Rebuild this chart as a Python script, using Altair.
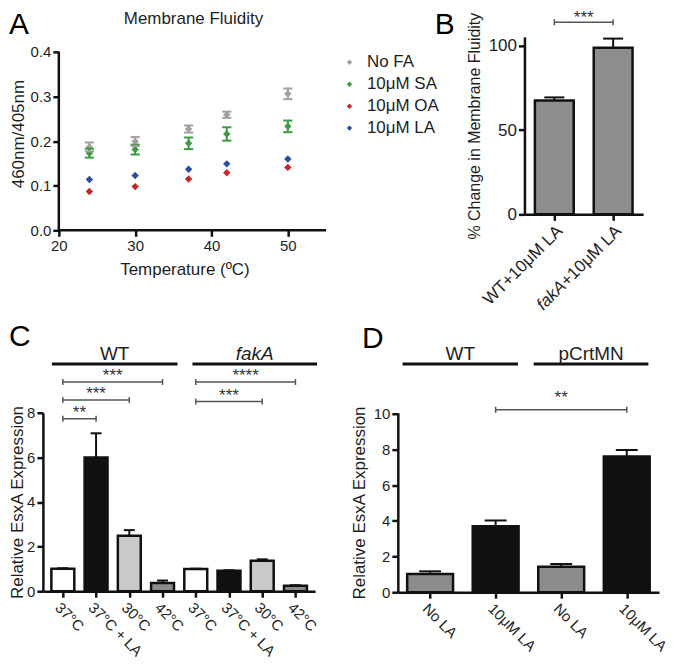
import json
import altair as alt
import pandas as pd

FONT = "Liberation Sans"
INK = "#111111"
TXT = "#1e1e1e"

# ---------------- Panel A: membrane fluidity ----------------
temps = [24, 30, 37, 42, 50]
A_series = ["No FA", "10μM SA", "10μM OA", "10μM LA"]
A_colors = ["#a0a0a0", "#3d9a41", "#c3262d", "#2d4c9e"]
nofa_mean = [0.187, 0.199, 0.227, 0.259, 0.306]
nofa_err = [0.010, 0.010, 0.008, 0.007, 0.012]
sa_mean = [0.173, 0.181, 0.195, 0.216, 0.233]
sa_err = [0.010, 0.011, 0.013, 0.015, 0.013]
oa_mean = [0.087, 0.098, 0.115, 0.129, 0.141]
oa_err = [0, 0, 0, 0, 0]
la_mean = [0.114, 0.123, 0.137, 0.149, 0.160]
la_err = [0, 0, 0, 0, 0]
A_xticks = [20, 30, 40, 50]
A_yticks = [0.0, 0.1, 0.2, 0.3, 0.4]
A_xlim = [20, 55]
A_ylim = [0.0, 0.4]

# ---------------- Panel B ----------------
B_prefix = ["WT", "fakA"]
B_suffix = "+10μM LA"
B_mean = [67.5, 98.8]
B_err = [1.9, 5.5]
B_yticks = [0, 50, 100]
B_brackets = [(0, 1, "***")]
B_bracket_level = [114]

# ---------------- Panel C ----------------
C_strain = ["WT"] * 4 + ["fakA"] * 4
C_cond = ["37°C", "37°C + LA", "30°C", "42°C"] * 2
C_mean = [1.01, 5.99, 2.49, 0.37, 1.00, 0.92, 1.37, 0.25]
C_err = [0.02, 1.09, 0.25, 0.11, 0.01, 0.02, 0.06, 0.02]
C_fill = ["#ffffff", "#111111", "#c9c9c9", "#8c8c8c"] * 2
C_yticks = [0, 2, 4, 6, 8]
C_brackets = [(0, 3, "***"), (0, 2, "***"), (0, 1, "**"), (4, 7, "****"), (4, 6, "***")]
C_bracket_level = [9.38, 8.57, 7.73, 9.38, 8.5]
C_groups = ["WT", "fakA"]
C_group_span = [(-0.33, 3.45), (3.9, 7.65)]
C_group_level = 10.19

# ---------------- Panel D ----------------
D_cond = ["No LA", "10μM LA", "No LA", "10μM LA"]
D_mean = [1.02, 3.69, 1.43, 7.60]
D_err = [0.15, 0.33, 0.15, 0.37]
D_fill = ["#8c8c8c", "#111111", "#8c8c8c", "#111111"]
D_yticks = [0, 2, 4, 6, 8, 10]
D_brackets = [(1, 3, "**")]
D_bracket_level = [10.22]
D_groups = ["WT", "pCrtMN"]
D_group_span = [(-0.42, 1.34), (1.58, 3.33)]
D_group_level = 12.79

# ---------------- layout (plot areas, px) ----------------
WA, HA = 284, 194
WB, HB = 119, 178
WC, HC = 273, 179
WD, HD = 262, 180
A_xdom, A_ydom = [17.913, 55], [0, 0.43352]
B_xdom, B_ydom = [-0.508, 1.509], [0, 105.3]
C_xdom, C_ydom = [-0.6, 7.59], [0, 8]
D_xdom, D_ydom = [-0.4925, 3.4925], [0, 10.056]
LBL = 15  # rotated category label size


def sc(dom):
    return alt.Scale(domain=dom, nice=False, zero=False)


class Pos:
    """x/y channel factories sharing one scale and one axis definition."""

    def __init__(self, xdom, ydom, xaxis, yaxis):
        self.xs, self.ys = sc(xdom), sc(ydom)
        self.xa, self.ya = xaxis, yaxis

    def X(self, f):
        return alt.X(f, scale=self.xs, axis=self.xa)

    def Y(self, f):
        return alt.Y(f, scale=self.ys, axis=self.ya)


def letter(ch, x, y):
    return alt.Chart(pd.DataFrame({"t": [ch]})).mark_text(
        font=FONT, fontSize=30, align="left", baseline="alphabetic", color="#000"
    ).encode(text="t:N", x=alt.value(x), y=alt.value(y))


def bar_layers(df, P, half, cap):
    base = alt.Chart(df).transform_calculate(
        xl=f"datum.i - {half}", xr=f"datum.i + {half}",
        top="datum.mean + datum.err",
        cl=f"datum.i - {cap}", cr=f"datum.i + {cap}", zero="0",
    )
    bars = base.mark_bar(stroke=INK, strokeWidth=2.5).encode(
        x=P.X("xl:Q"), x2="xr:Q", y=P.Y("mean:Q"), y2="zero:Q",
        color=alt.Color("fill:N", scale=None),
    )
    err = base.mark_rule(color=INK, strokeWidth=2).encode(
        x=P.X("i:Q"), y=P.Y("mean:Q"), y2="top:Q")
    caps = base.mark_rule(color=INK, strokeWidth=2).encode(
        x=P.X("cl:Q"), x2="cr:Q", y=P.Y("top:Q"))
    return [bars, err, caps]


def cat_labels(df, P, labels, size=LBL):
    d = pd.DataFrame({"i": list(range(len(labels))), "lab": labels})
    return alt.Chart(d).transform_calculate(zero="0").mark_text(
        font=FONT, fontSize=size, color=TXT, angle=45, align="left", baseline="top",
        dx=6.4, dy=6.4,
    ).encode(x=P.X("i:Q"), y=P.Y("zero:Q"), text="lab:N")


def bracket_layers(brackets, levels, P, d, star_dy):
    df = pd.DataFrame({
        "s": [b[0] for b in brackets], "e": [b[1] for b in brackets],
        "lab": [b[2] for b in brackets], "lev": levels,
    })
    base = alt.Chart(df).transform_calculate(
        mid="(datum.s + datum.e) / 2", lo=f"datum.lev - {d}", hi=f"datum.lev + {d}"
    )
    line = base.mark_rule(color="#555", strokeWidth=1.5).encode(
        x=P.X("s:Q"), x2="e:Q", y=P.Y("lev:Q"))
    capl = base.mark_rule(color="#555", strokeWidth=1.5).encode(
        x=P.X("s:Q"), y=P.Y("lo:Q"), y2="hi:Q")
    capr = base.mark_rule(color="#555", strokeWidth=1.5).encode(
        x=P.X("e:Q"), y=P.Y("lo:Q"), y2="hi:Q")
    stars = base.mark_text(font=FONT, fontSize=17, color="#333", baseline="middle", dy=star_dy).encode(
        x=P.X("mid:Q"), y=P.Y("lev:Q"), text="lab:N")
    return [line, capl, capr, stars]


def group_layers(names, spans, level, P, italic_names=()):
    df = pd.DataFrame({
        "name": names, "s": [s[0] for s in spans], "e": [s[1] for s in spans],
        "lev": [level] * len(names),
    })
    base = alt.Chart(df).transform_calculate(mid="(datum.s + datum.e) / 2")
    line = base.mark_rule(color=INK, strokeWidth=3).encode(
        x=P.X("s:Q"), x2="e:Q", y=P.Y("lev:Q"))
    out = [line]
    for style, keep in (("normal", False), ("italic", True)):
        flt = " || ".join(f"datum.name == '{n}'" for n in italic_names) or "false"
        if not keep:
            flt = f"!({flt})"
        out.append(base.transform_filter(flt).mark_text(
            font=FONT, fontSize=19, fontStyle=style, color=TXT, baseline="alphabetic", dy=-4
        ).encode(x=P.X("mid:Q"), y=P.Y("lev:Q"), text="name:N"))
    return out


def cat_xaxis(n):
    return alt.Axis(values=list(range(n)), labels=False, title=None)


def yaxis(values, title, pad, tsize=17, lsize=15):
    return alt.Axis(values=values, title=title, titlePadding=pad, titleFontSize=tsize,
                    labelFontSize=lsize, labelOverlap=False)


# ======================= Panel A =======================
PA = Pos(A_xdom, A_ydom,
         alt.Axis(values=A_xticks, domain=False, title="Temperature (ºC)", labelFontSize=15,
                  titlePadding=8, labelOverlap=False),
         alt.Axis(values=A_yticks, format=".1f", domain=False, offset=-16, title="460nm/405nm",
                  labelFontSize=15, titlePadding=3, labelOverlap=False))
rows = []
for name, means, errs in zip(A_series, [nofa_mean, sa_mean, oa_mean, la_mean],
                             [nofa_err, sa_err, oa_err, la_err]):
    for t, m, e in zip(temps, means, errs):
        rows.append({"temp": t, "series": name, "mean": m, "err": e})
dfA = pd.DataFrame(rows)
cscale = alt.Scale(domain=A_series, range=A_colors)
baseA = alt.Chart(dfA).transform_calculate(
    lo="datum.mean - datum.err", hi="datum.mean + datum.err",
    cl="datum.temp - 0.6", cr="datum.temp + 0.6")
errA = baseA.transform_filter("datum.err > 0").mark_rule(strokeWidth=2).encode(
    x=PA.X("temp:Q"), y=PA.Y("lo:Q"), y2="hi:Q",
    color=alt.Color("series:N", scale=cscale, legend=None))
capHiA = baseA.transform_filter("datum.err > 0").mark_rule(strokeWidth=2).encode(
    x=PA.X("cl:Q"), x2="cr:Q", y=PA.Y("hi:Q"),
    color=alt.Color("series:N", scale=cscale, legend=None))
capLoA = baseA.transform_filter("datum.err > 0").mark_rule(strokeWidth=2).encode(
    x=PA.X("cl:Q"), x2="cr:Q", y=PA.Y("lo:Q"),
    color=alt.Color("series:N", scale=cscale, legend=None))
ptsA = baseA.mark_point(shape="diamond", filled=True, size=55, opacity=1).encode(
    x=PA.X("temp:Q"), y=PA.Y("mean:Q"),
    color=alt.Color("series:N", scale=cscale, legend=alt.Legend(
        title=None, orient="none", legendX=299, legendY=17, symbolType="diamond", symbolSize=30,
        symbolStrokeWidth=0, labelFontSize=17, labelFont=FONT, labelColor=TXT, rowPadding=4,
        labelOffset=9, padding=0)),
)
axdfA = pd.DataFrame({"x0": [A_xlim[0]], "x1": [A_xlim[1]], "y0": [A_ylim[0]], "y1": [A_ylim[1]]})
xlineA = alt.Chart(axdfA).mark_rule(color=INK, strokeWidth=2.5).encode(
    x=PA.X("x0:Q"), x2="x1:Q", y=PA.Y("y0:Q"))
ylineA = alt.Chart(axdfA).mark_rule(color=INK, strokeWidth=2.5).encode(
    x=PA.X("x0:Q"), y=PA.Y("y0:Q"), y2="y1:Q")
titleA = alt.Chart(pd.DataFrame({"t": ["Membrane Fluidity"]})).mark_text(
    font=FONT, fontSize=17, color=TXT, align="center", baseline="alphabetic"
).encode(text="t:N", x=alt.value(151), y=alt.value(-13))

panelA = alt.layer(
    ptsA, errA, capHiA, capLoA, xlineA, ylineA, titleA, letter("A", -34, -3)
).properties(width=WA, height=HA)

# ======================= Panel B =======================
PB = Pos(B_xdom, B_ydom, cat_xaxis(2),
         yaxis(B_yticks, "% Change in Membrane Fluidity", 6, tsize=16, lsize=17))
dfB = pd.DataFrame({"i": [0, 1], "mean": B_mean, "err": B_err, "prefix": B_prefix,
                    "fill": ["#8e8e8e", "#8e8e8e"]})
SUFFIX_W = 78.3
labBase = alt.Chart(dfB).transform_calculate(zero="0")
lab_kw = dict(font=FONT, fontSize=17, color=TXT, angle=315, align="right", baseline="top", dy=6)
labSuffix = labBase.mark_text(dx=-6, **lab_kw).encode(
    x=PB.X("i:Q"), y=PB.Y("zero:Q"), text=alt.value(B_suffix))
labWT = labBase.transform_filter("datum.i == 0").mark_text(dx=-6 - SUFFIX_W, **lab_kw).encode(
    x=PB.X("i:Q"), y=PB.Y("zero:Q"), text="prefix:N")
labFak = labBase.transform_filter("datum.i == 1").mark_text(
    dx=-6 - SUFFIX_W, fontStyle="italic", **lab_kw).encode(
    x=PB.X("i:Q"), y=PB.Y("zero:Q"), text="prefix:N")
panelB = alt.layer(
    *bar_layers(dfB, PB, 0.33, 0.17), labSuffix, labWT, labFak,
    *bracket_layers(B_brackets, B_bracket_level, PB, 1.8, -4),
    letter("B", -90, -3),
).properties(width=WB, height=HB)

# ======================= Panel C =======================
PC = Pos(C_xdom, C_ydom, cat_xaxis(8), yaxis(C_yticks, "Relative EsxA Expression", 0))
dfC = pd.DataFrame({"i": list(range(8)), "mean": C_mean, "err": C_err, "fill": C_fill})
panelC = alt.layer(
    *bar_layers(dfC, PC, 0.345, 0.165),
    cat_labels(dfC, PC, C_cond),
    *bracket_layers(C_brackets, C_bracket_level, PC, 0.134, -6),
    *group_layers(C_groups, C_group_span, C_group_level, PC, italic_names=("fakA",)),
    letter("C", -34, -67),
).properties(width=WC, height=HC)

# ======================= Panel D =======================
PD = Pos(D_xdom, D_ydom, cat_xaxis(4), yaxis(D_yticks, "Relative EsxA Expression", 5))
dfD = pd.DataFrame({"i": list(range(4)), "mean": D_mean, "err": D_err, "fill": D_fill})
panelD = alt.layer(
    *bar_layers(dfD, PD, 0.35, 0.167),
    cat_labels(dfD, PD, D_cond),
    *bracket_layers(D_brackets, D_bracket_level, PD, 0.168, -12),
    *group_layers(D_groups, D_group_span, D_group_level, PD),
    letter("D", -36, -65),
).properties(width=WD, height=HD)

row1 = alt.hconcat(panelA, panelB, spacing=199, bounds="flush")
row2 = alt.hconcat(panelC, panelD, spacing=83, bounds="flush")

chart = alt.vconcat(row1, row2, spacing=8).properties(
    padding=0, background="white"
).configure_view(stroke=None).configure_axis(
    grid=False, domainColor=INK, domainWidth=2.5, tickColor=INK, tickWidth=2.5, tickSize=6,
    labelColor=TXT, labelFont=FONT, titleFont=FONT, titleFontWeight="normal", titleColor=TXT,
    titleFontSize=17, labelOverlap=False, labelFlush=False,
).configure_text(font=FONT)

chart.save("out.html", embed_options={"renderer": "svg", "actions": False})
